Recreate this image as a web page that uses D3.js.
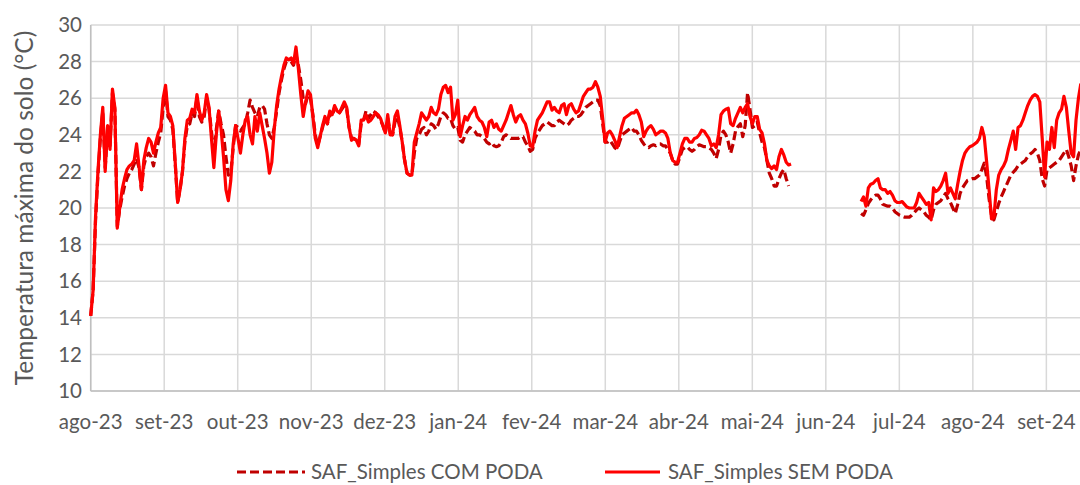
<!DOCTYPE html>
<html><head><meta charset="utf-8">
<script src="https://cdn.jsdelivr.net/npm/d3@7"></script>
<style>
html,body{margin:0;padding:0;background:#fff;}
svg{display:block;font-family:Lato, "Open Sans", sans-serif;}
</style></head>
<body><svg id="chart" width="1080" height="485"></svg>
<script>
const monthLabels = ["ago-23","set-23","out-23","nov-23","dez-23","jan-24","fev-24","mar-24","abr-24","mai-24","jun-24","jul-24","ago-24","set-24"];
const yTicks = [10,12,14,16,18,20,22,24,26,28,30];
const seriesNames = ["SAF_Simples COM PODA","SAF_Simples SEM PODA"];
// days since 1 Aug 2023; segment 1 starts at day 0, segment 2 at day 319
const seg1Start = 0, seg2Start = 319;
const semPoda1 = [14.1,15.5,19.5,22.0,24.0,25.5,22.0,24.5,23.2,26.5,25.5,18.9,20.0,21.0,21.6,22.1,22.3,22.4,22.6,23.5,
22.3,21.0,22.6,23.3,23.8,23.6,23.0,23.6,24.1,24.4,26.0,26.7,25.2,25.0,24.5,22.5,20.3,21.0,22.0,23.8,
24.8,24.9,25.4,25.2,26.2,25.3,24.8,25.2,26.2,25.5,23.8,22.2,24.0,25.3,24.3,22.8,21.0,20.4,21.5,23.5,
24.5,23.8,23.0,24.0,24.8,25.0,24.0,23.5,25.0,24.2,25.2,24.5,23.8,23.0,21.9,22.5,24.3,25.6,26.5,27.2,
27.8,28.2,28.1,28.2,27.9,28.8,27.6,26.2,25.0,25.8,26.4,26.2,25.0,23.8,23.3,23.9,24.5,25.0,24.6,25.3,
25.1,25.6,25.3,25.2,25.5,25.8,25.5,24.4,23.7,23.8,23.7,23.4,24.8,24.8,25.1,24.7,24.8,25.0,25.2,25.1,
24.9,24.5,24.1,25.1,24.0,24.0,25.0,25.3,24.5,23.6,22.6,21.9,21.8,21.8,23.6,24.1,24.6,25.2,25.0,24.8,
25.0,25.5,25.2,25.1,25.4,26.2,26.6,26.7,26.3,26.6,24.8,25.1,25.9,23.9,24.5,25.0,24.8,25.1,25.3,25.5,
25.0,24.8,24.7,24.4,23.9,24.7,24.8,24.4,24.6,24.3,24.2,24.5,24.8,25.2,25.6,25.1,24.7,25.0,25.1,24.8,
24.6,24.1,23.4,23.35,24.2,24.8,25.0,25.2,25.5,25.8,25.8,25.35,25.5,25.3,25.2,25.6,25.7,25.1,25.6,25.7,
25.4,25.2,25.3,25.7,26.1,26.3,26.5,26.5,26.6,26.9,26.6,26.1,24.9,23.6,24.1,24.2,24.0,23.7,23.3,23.9,
24.5,24.9,25.0,25.1,25.2,25.2,25.35,25.1,24.7,23.9,24.2,24.4,24.5,24.3,24.0,24.1,24.2,24.2,24.1,23.8,
23.0,22.6,22.5,22.5,23.0,23.5,23.8,23.8,23.6,23.6,23.8,23.85,24.0,24.25,24.2,24.0,23.8,23.4,23.5,23.3,
24.0,25.1,25.3,25.4,25.45,24.6,24.5,24.9,25.2,25.5,25.2,25.5,25.7,25.0,24.6,25.0,25.0,24.3,24.1,23.5,
22.6,22.3,22.15,22.3,22.1,22.8,23.2,22.9,22.5,22.35,22.4];
const comPoda1 = [14.1,15.5,19.3,21.8,23.8,25.3,22.2,24.2,23.4,26.3,25.4,19.0,19.9,20.6,21.2,21.6,21.9,22.1,22.4,22.7,
22.2,21.0,22.3,22.8,23.0,22.8,22.3,23.0,23.6,24.1,25.5,26.4,25.0,24.8,24.3,22.4,20.3,21.0,22.0,23.6,
24.5,24.6,25.2,25.0,26.0,25.0,24.7,25.0,26.0,25.4,24.2,22.8,24.3,25.3,24.6,24.0,22.8,21.8,21.9,23.3,
24.5,24.4,24.2,24.4,24.6,25.2,25.9,25.5,25.2,25.0,25.5,25.6,25.4,24.6,24.0,23.8,24.4,25.3,26.3,27.0,
27.6,28.0,28.0,28.0,27.8,28.4,27.8,27.0,26.0,25.7,26.2,26.0,25.1,24.0,23.4,23.9,24.4,24.9,24.6,25.2,
25.0,25.5,25.3,25.2,25.4,25.6,25.4,24.4,23.8,23.8,23.7,23.5,24.6,24.8,25.3,24.9,25.1,25.3,25.2,25.0,
24.8,24.5,24.1,24.9,24.1,24.0,24.7,25.0,24.4,23.6,22.6,21.9,21.8,21.8,23.0,23.8,24.0,24.3,24.4,24.0,
24.2,24.6,24.5,24.3,24.6,25.0,25.2,25.1,24.9,24.9,24.5,24.3,24.4,23.7,23.6,24.0,24.2,24.4,24.3,24.2,
24.0,24.0,23.9,23.8,23.6,23.5,23.6,23.4,23.35,23.4,23.6,23.9,24.0,23.9,23.8,23.8,23.8,23.8,23.9,23.9,
23.6,23.4,23.1,23.2,23.8,24.1,24.3,24.5,24.6,24.7,24.6,24.5,24.5,24.7,24.8,24.7,24.6,24.5,24.6,24.8,
24.9,25.0,25.0,25.1,25.3,25.5,25.6,25.7,25.8,25.9,25.9,25.6,24.6,23.6,23.6,23.7,23.5,23.3,23.2,23.6,
24.0,24.1,24.2,24.3,24.4,24.2,24.2,24.0,23.7,23.5,23.35,23.3,23.4,23.45,23.4,23.5,23.5,23.4,23.4,23.2,
23.0,22.6,22.4,22.4,22.8,23.2,23.3,23.35,23.2,23.1,23.2,23.35,23.45,23.4,23.35,23.35,23.3,23.2,23.0,22.7,
23.2,24.0,24.2,24.0,23.6,23.0,23.5,24.2,24.45,24.6,23.9,24.5,26.3,25.4,24.4,24.5,24.7,24.1,23.6,23.3,
22.6,21.9,21.6,21.2,21.2,21.6,21.9,22.1,21.6,21.2];
const semPoda2 = [20.35,20.6,20.1,21.1,21.3,21.35,21.5,21.6,21.1,21.0,21.0,20.8,20.9,20.7,20.4,20.3,20.3,20.35,20.2,20.05,
20.0,20.0,20.0,20.3,20.8,20.6,20.4,20.2,20.3,19.35,21.1,20.9,21.0,21.2,21.5,21.9,20.8,21.1,20.8,20.5,
21.3,22.0,22.6,23.0,23.2,23.35,23.4,23.5,23.6,23.8,24.4,23.9,22.5,21.0,19.4,19.5,21.0,21.8,22.1,22.3,
22.6,23.2,23.7,24.2,23.2,24.4,24.5,24.8,25.2,25.6,25.9,26.1,26.2,26.1,25.8,23.8,21.7,23.6,23.2,24.4,
23.3,24.8,25.2,25.4,26.1,25.5,24.2,23.0,22.8,24.8,26.0,26.8];
const comPoda2 = [19.7,19.6,19.9,20.25,20.45,20.6,20.7,20.7,20.5,20.2,20.15,20.1,20.1,20.0,19.8,19.7,19.6,19.55,19.5,19.5,
19.5,19.6,19.75,19.9,20.0,19.9,19.8,19.6,19.5,19.35,19.9,20.2,20.3,20.4,20.6,20.8,20.5,20.3,20.0,19.7,
20.2,20.8,21.1,21.3,21.5,21.55,21.6,21.6,21.7,21.8,22.1,22.45,21.7,20.5,19.6,19.35,19.8,20.25,20.6,20.9,
21.2,21.5,21.8,21.95,22.1,22.3,22.4,22.5,22.6,22.8,22.95,23.05,23.2,23.0,22.6,21.6,21.2,22.1,22.2,22.3,
22.4,22.5,22.6,22.8,23.0,23.2,22.8,22.3,21.5,22.3,22.9,23.2];

const svg = d3.select("#chart");
const W = 1080;
const daysPerMonth = 30.44;
const x = d3.scaleLinear().domain([0, 410]).range([90.7, 90.7 + 410 * 2.415]);
const y = d3.scaleLinear().domain([10, 30]).range([391, 25]);
const plotLeft = x(0), plotBottom = y(10), plotTop = y(30);

const gridColor = "#D9D9D9";
const textColor = "#595959";

svg.append("g").selectAll("line").data(yTicks).join("line")
  .attr("x1", plotLeft).attr("x2", W).attr("y1", d => y(d)).attr("y2", d => y(d))
  .attr("stroke", gridColor).attr("stroke-width", 1.5);
const monthIdx = monthLabels.map((m, i) => i);
svg.append("g").selectAll("line").data(monthIdx).join("line")
  .attr("x1", d => x(d * daysPerMonth)).attr("x2", d => x(d * daysPerMonth))
  .attr("y1", plotTop).attr("y2", plotBottom)
  .attr("stroke", gridColor).attr("stroke-width", 1.5);
svg.append("line").attr("x1", plotLeft).attr("x2", W).attr("y1", plotBottom).attr("y2", plotBottom)
  .attr("stroke", "#BFBFBF").attr("stroke-width", 1.5);
svg.append("line").attr("x1", plotLeft).attr("x2", plotLeft).attr("y1", plotTop).attr("y2", plotBottom)
  .attr("stroke", "#BFBFBF").attr("stroke-width", 1.5);

svg.append("g").selectAll("text").data(yTicks).join("text")
  .attr("x", 82).attr("y", d => y(d)).attr("dy", "0.35em")
  .attr("text-anchor", "end").attr("font-size", 20.5).attr("fill", textColor)
  .text(d => d);
svg.append("g").selectAll("text").data(monthLabels).join("text")
  .attr("x", (d, i) => x(i * daysPerMonth)).attr("y", 422).attr("dy", "0.35em")
  .attr("text-anchor", "middle").attr("font-size", 20.5).attr("fill", textColor)
  .text(d => d);
svg.append("text").attr("transform", "translate(24,208) rotate(-90)")
  .attr("text-anchor", "middle").attr("dy", "0.35em").attr("font-size", 24.5).attr("fill", textColor)
  .text("Temperatura máxima do solo (°C)");

const line = d3.line().x(d => x(d.day)).y(d => y(d.v));
const toPts = (arr, start) => arr.map((v, i) => ({day: start + i, v}));

const styles = [
  {color: "#C00000", dash: "9,4"},
  {color: "#FF0000", dash: null}
];
const plotG = svg.append("g");
[[comPoda1, comPoda2], [semPoda1, semPoda2]].forEach((segs, k) => {
  [[segs[0], seg1Start], [segs[1], seg2Start]].forEach(([arr, st]) => {
    plotG.append("path").datum(toPts(arr, st))
      .attr("d", line).attr("fill", "none")
      .attr("stroke", styles[k].color).attr("stroke-width", 3.2)
      .attr("stroke-linejoin", "round")
      .attr("stroke-dasharray", styles[k].dash);
  });
});

const legY = 472;
const leg = [
  {x1: 237, x2: 305, tx: 311},
  {x1: 605, x2: 660, tx: 668}
];
leg.forEach((l, k) => {
  svg.append("line").attr("x1", l.x1).attr("x2", l.x2).attr("y1", legY).attr("y2", legY)
    .attr("stroke", styles[k].color).attr("stroke-width", 3.2)
    .attr("stroke-dasharray", styles[k].dash);
  svg.append("text").attr("x", l.tx).attr("y", legY).attr("dy", "0.35em")
    .attr("font-size", 20.5).attr("fill", textColor).text(seriesNames[k]);
});
</script></body></html>
